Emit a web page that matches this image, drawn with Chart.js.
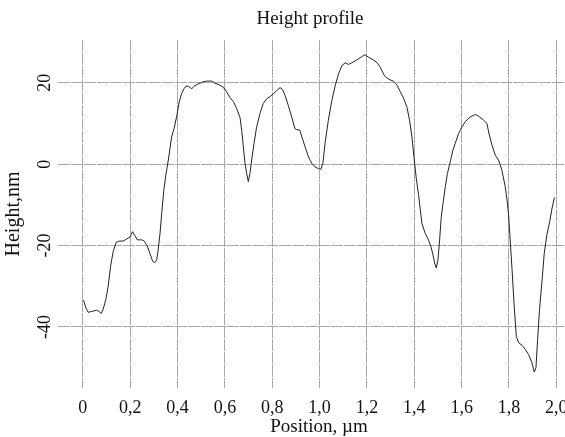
<!DOCTYPE html>
<html>
<head>
<meta charset="utf-8">
<title>Height profile</title>
<script src="https://cdn.jsdelivr.net/npm/chart.js@4.4.1/dist/chart.umd.min.js"></script>
<style>
    html, body { margin: 0; padding: 0; background: #fff; overflow: hidden; }
    #wrap { width: 565px; height: 437px; overflow: hidden; }
</style>
</head>
<body>
<div id="wrap">
    <canvas id="profile" width="620" height="437"></canvas>
</div>
<script>
// Profile data (position in um, height in nm)
const positions = [
    0.000, 0.004, 0.013, 0.022, 0.037, 0.058, 0.069, 0.077, 0.086, 0.097,
    0.107, 0.117, 0.128, 0.140, 0.153, 0.170, 0.185, 0.199, 0.210, 0.220,
    0.230, 0.248, 0.258, 0.272, 0.283, 0.295, 0.304, 0.312, 0.318, 0.326,
    0.333, 0.342, 0.351, 0.361, 0.375, 0.385, 0.396, 0.407, 0.417, 0.427,
    0.436, 0.447, 0.460, 0.469, 0.483, 0.502, 0.523, 0.544, 0.558, 0.576,
    0.593, 0.608, 0.622, 0.636, 0.650, 0.664, 0.671, 0.678, 0.685, 0.692,
    0.699, 0.706, 0.713, 0.723, 0.734, 0.748, 0.762, 0.777, 0.791, 0.805,
    0.819, 0.833, 0.844, 0.854, 0.868, 0.882, 0.896, 0.903, 0.917, 0.925,
    0.939, 0.953, 0.967, 0.981, 0.995, 1.005, 1.014, 1.023, 1.037, 1.052,
    1.066, 1.080, 1.094, 1.108, 1.122, 1.136, 1.157, 1.178, 1.192, 1.206,
    1.227, 1.242, 1.256, 1.273, 1.284, 1.298, 1.312, 1.326, 1.340, 1.354,
    1.369, 1.380, 1.390, 1.400, 1.408, 1.418, 1.425, 1.432, 1.446, 1.460,
    1.470, 1.479, 1.486, 1.493, 1.500, 1.507, 1.514, 1.523, 1.531, 1.540,
    1.552, 1.563, 1.573, 1.587, 1.601, 1.615, 1.636, 1.658, 1.671, 1.693,
    1.707, 1.714, 1.728, 1.742, 1.756, 1.770, 1.784, 1.791, 1.798, 1.805,
    1.813, 1.822, 1.831, 1.841, 1.855, 1.869, 1.883, 1.897, 1.907, 1.914,
    1.921, 1.929, 1.940, 1.949, 1.960, 1.972, 1.982, 1.992
];
const heights = [
    -33.3, -33.7, -35.3, -36.4, -36.2, -35.9, -36.2, -36.7, -35.6, -33.3,
    -30.0, -25.1, -21.5, -19.3, -18.9, -18.9, -18.4, -17.9, -16.6, -17.6,
    -18.6, -18.6, -18.8, -20.1, -21.9, -23.9, -24.2, -23.5, -21.1, -17.0,
    -12.1, -6.4, -2.5, 1.0, 6.7, 8.7, 11.6, 15.3, 17.3, 18.5,
    19.2, 19.1, 18.5, 19.1, 19.6, 20.1, 20.4, 20.4, 19.9, 19.5,
    18.9, 17.7, 16.3, 15.4, 13.6, 11.4, 8.3, 4.2, 0.2, -2.3,
    -4.3, -2.3, 1.0, 5.1, 9.1, 12.4, 14.9, 16.1, 16.6, 17.3,
    18.1, 18.8, 18.3, 16.9, 14.4, 11.6, 8.7, 8.5, 8.3, 6.7,
    4.2, 1.8, 0.2, -0.7, -1.1, -1.3, 0.2, 5.1, 10.8, 15.7,
    19.3, 22.2, 24.2, 24.9, 24.5, 24.9, 25.6, 26.4, 26.9, 26.3,
    25.6, 25.0, 23.8, 21.8, 21.2, 20.7, 20.4, 19.5, 17.9, 16.3,
    14.0, 10.8, 6.7, 1.0, -3.3, -7.5, -11.0, -14.5, -17.0, -18.6,
    -20.2, -22.3, -24.3, -25.5, -23.5, -18.6, -12.9, -9.0, -5.5, -2.3,
    0.6, 3.4, 5.1, 7.5, 9.1, 10.4, 11.6, 12.2, 11.8, 10.8,
    10.0, 7.9, 4.7, 2.2, 1.0, -1.5, -5.5, -8.5, -12.1, -18.6,
    -25.9, -34.9, -42.3, -43.9, -44.5, -45.5, -46.8, -48.8, -51.1, -50.0,
    -43.1, -35.7, -28.4, -21.9, -17.4, -14.1, -10.8, -8.2
];

// Axis ranges
const xRange = [-0.105, 2.10];
const yRange = [-55, 30.5];

const serif = '"Liberation Serif", "DejaVu Serif", serif';
const gridColor = '#a8a8a8';

function formatPosition(v) {
    if (Math.abs(v) < 1e-9) return '0';
    return v.toFixed(1).replace('.', ',');
}

const ctx = document.getElementById('profile').getContext('2d');

new Chart(ctx, {
    type: 'scatter',
    data: {
        datasets: [{
            data: positions.map((x, i) => ({ x: x, y: heights[i] })),
            showLine: true,
            borderColor: '#222',
            borderWidth: 1,
            pointRadius: 0,
            tension: 0
        }]
    },
    options: {
        responsive: false,
        animation: false,
        layout: {
            padding: 0
        },
        plugins: {
            legend: { display: false },
            tooltip: { enabled: false },
            title: {
                display: true,
                text: 'Height profile',
                color: '#111',
                font: { family: serif, size: 19, weight: 'normal', lineHeight: 1 },
                padding: { top: 10, bottom: 11 }
            }
        },
        scales: {
            x: {
                type: 'linear',
                min: xRange[0],
                max: xRange[1],
                border: { display: false, dash: [12, 1] },
                grid: { color: gridColor, lineWidth: 1, drawTicks: false },
                ticks: {
                    stepSize: 0.2,
                    includeBounds: false,
                    padding: 11,
                    maxRotation: 0,
                    autoSkip: false,
                    color: '#111',
                    font: { family: serif, size: 18, lineHeight: 1 },
                    callback: (v) => formatPosition(v)
                },
                title: {
                    display: true,
                    text: 'Position, µm',
                    color: '#111',
                    font: { family: serif, size: 19, lineHeight: 1 },
                    padding: { top: -10, bottom: 0 }
                }
            },
            y: {
                min: yRange[0],
                max: yRange[1],
                border: { display: false, dash: [12, 1] },
                grid: { color: gridColor, lineWidth: 1, drawTicks: false },
                ticks: {
                    stepSize: 20,
                    includeBounds: false,
                    padding: 1,
                    minRotation: 90,
                    maxRotation: 90,
                    crossAlign: 'center',
                    color: '#111',
                    font: { family: serif, size: 18, lineHeight: 1 }
                },
                title: {
                    display: true,
                    text: 'Height,nm',
                    color: '#111',
                    font: { family: serif, size: 20, lineHeight: 1 },
                    padding: { top: 4, bottom: 14 }
                }
            },
            // empty right-hand axis: only reserves the space beyond the plot
            spacer: {
                axis: 'y',
                position: 'right',
                grid: { display: false },
                border: { display: false },
                ticks: { display: false },
                afterFit: (scale) => { scale.width = 40; }
            }
        }
    }
});
</script>
</body>
</html>
